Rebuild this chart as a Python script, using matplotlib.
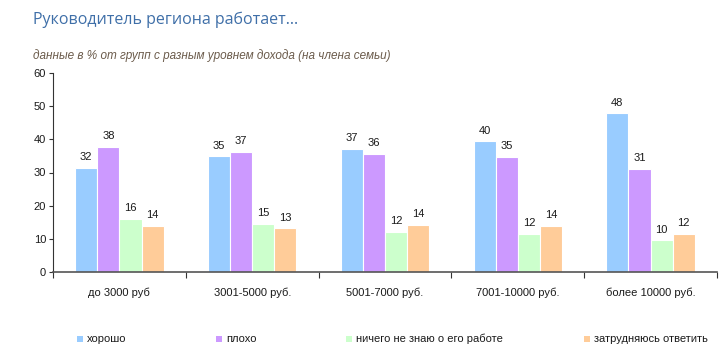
import matplotlib
matplotlib.use("Agg")
import matplotlib.pyplot as plt
import numpy as np
from matplotlib.patches import Rectangle

categories = ["до 3000 руб", "3001-5000 руб.", "5001-7000 руб.", "7001-10000 руб.", "более 10000 руб."]
series_names = ["хорошо", "плохо", "ничего не знаю о его работе", "затрудняюсь ответить"]
good = [31.5, 34.9, 37.1, 39.4, 47.9]
bad = [37.7, 36.3, 35.7, 34.7, 31.1]
dont_know = [16.0, 14.6, 12.2, 11.5, 9.6]
hard_to_say = [14.0, 13.2, 14.3, 13.9, 11.6]
labels = [[32, 35, 37, 40, 48], [38, 37, 36, 35, 31], [16, 15, 12, 12, 10], [14, 13, 14, 14, 12]]
yticks = [0, 10, 20, 30, 40, 50, 60]

colors = ["#99CCFF", "#CC99FF", "#CCFFCC", "#FFCC99"]
data = [good, bad, dont_know, hard_to_say]

plt.rcParams['font.family'] = ['Liberation Sans', 'DejaVu Sans']

fig = plt.figure(figsize=(7.2, 3.58), dpi=100)
ax = fig.add_axes([53/720, 1-272/358, (717-53)/720, (272-73)/358])

x = np.arange(len(categories))
w = 1/6
for i, (vals, c) in enumerate(zip(data, colors)):
    pos = x + (i - 1.5) * w
    bars = ax.bar(pos, vals, width=w, color=c, edgecolor="white", linewidth=0.8)
    for b, lab in zip(bars, labels[i]):
        ax.annotate(str(lab), (b.get_x() + b.get_width()/2, b.get_height()),
                    xytext=(0, 4), textcoords="offset points",
                    ha="center", va="bottom", fontsize=8, color="#1a1a1a")

ax.set_xlim(-0.5, len(categories) - 0.5)
ax.set_ylim(0, 60)
ax.set_yticks(yticks)
ax.tick_params(axis="y", labelsize=8, length=3, width=0.8, pad=2, color="#333333", labelcolor="#1a1a1a")

ax.set_xticks(np.arange(len(categories) + 1) - 0.5)
ax.set_xticklabels([])
ax.tick_params(axis="x", which="major", length=4, width=0.8, color="#333333")
ax.set_xticks(x, minor=True)
ax.set_xticklabels(categories, minor=True)
ax.tick_params(axis="x", which="minor", length=0, pad=11, labelsize=8, labelcolor="#1a1a1a")

for s in ["top", "right"]:
    ax.spines[s].set_visible(False)
ax.spines["left"].set_color("#333333")
ax.spines["left"].set_linewidth(0.8)
ax.spines["bottom"].set_color("#555555")
ax.spines["bottom"].set_linewidth(1.2)

fig.text(33/720, 1-20/358, "Руководитель региона работает...", fontsize=11.5,
         color="#3F6FA8", va="center", ha="left", family=["Open Sans", "DejaVu Sans"])
fig.text(33/720, 1-56/358, "данные в % от групп с разным уровнем дохода (на члена семьи)",
         fontsize=8.5, style="italic", color="#6B5B4B", va="center", ha="left",
         family=["Liberation Sans", "DejaVu Sans"])

leg_x = [77, 216, 346, 584]
for name, c, lx in zip(series_names, colors, leg_x):
    fig.patches.append(Rectangle((lx/720, 1-342/358), 6/720, 6/358, transform=fig.transFigure,
                                 facecolor=c, edgecolor="none"))
    fig.text((lx+10)/720, 1-339/358, name, fontsize=8, va="center", ha="left", color="#1a1a1a")

fig.savefig("out.png", dpi=100)
